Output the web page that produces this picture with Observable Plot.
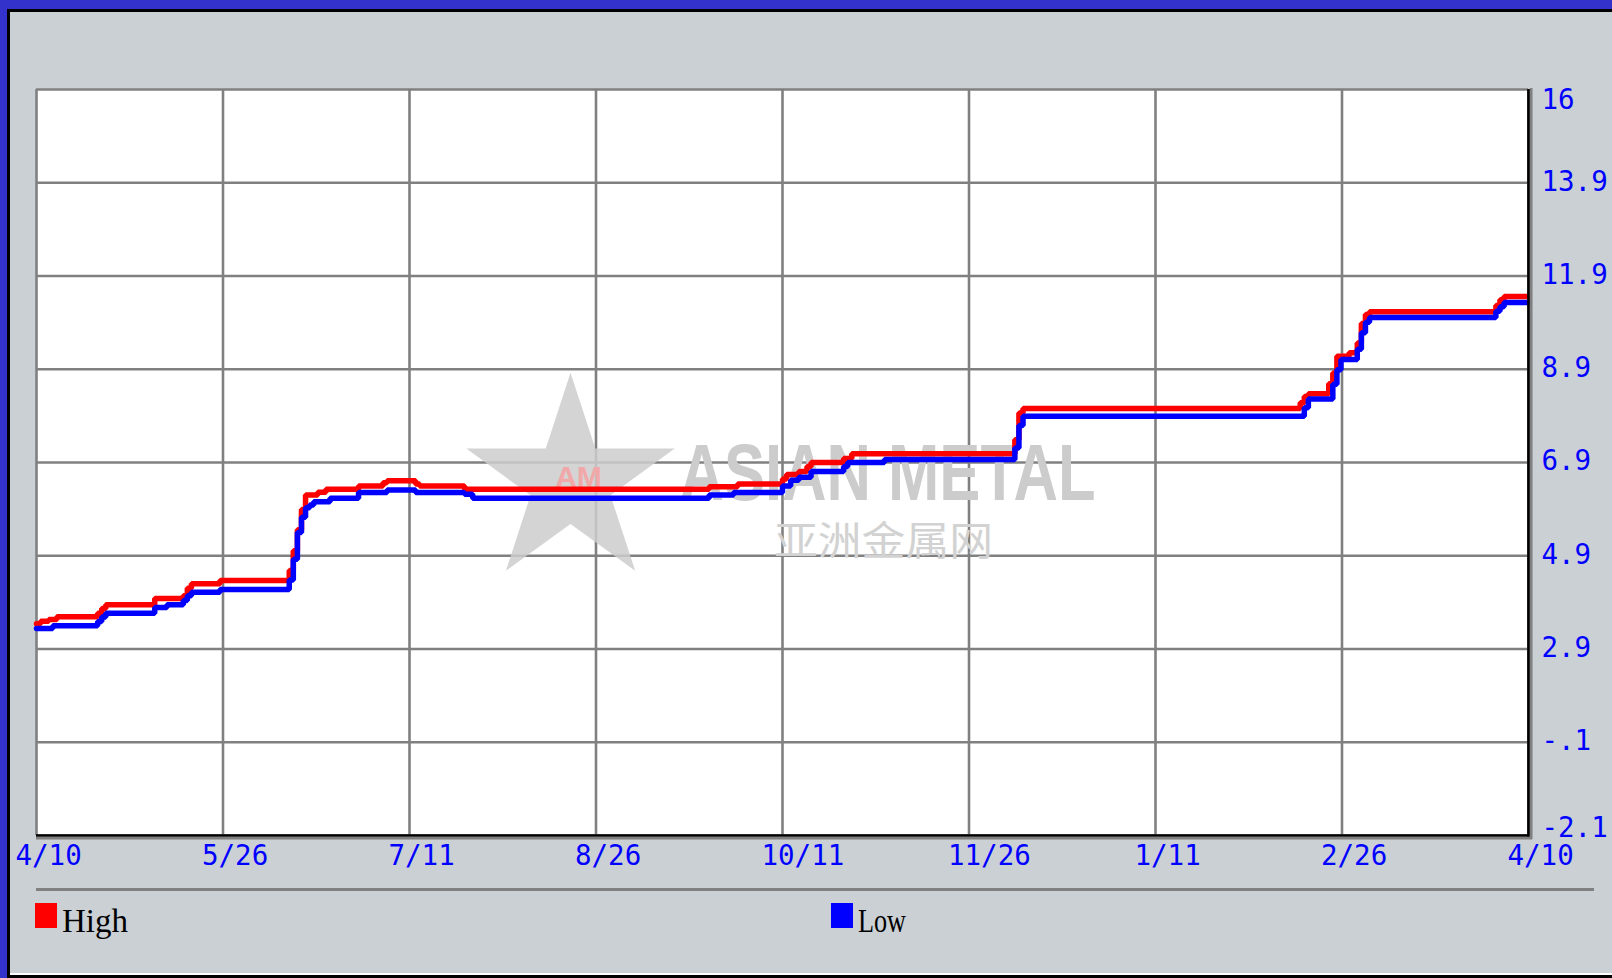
<!DOCTYPE html>
<html>
<head>
<meta charset="utf-8">
<script src="https://cdn.jsdelivr.net/npm/d3@7"></script>
<script src="https://cdn.jsdelivr.net/npm/@observablehq/plot@0.6"></script>
<style>
  html, body { margin: 0; padding: 0; overflow: hidden; background: #3333CC; }
  #wrap { position: relative; width: 1612px; height: 978px; background: #3333CC; overflow: hidden; }
  #outer { position: absolute; left: 7px; top: 9px; right: 0; bottom: 0; background: #000; }
  #panel { position: absolute; left: 10px; top: 12px; width: 1602px; height: 961px; background: #CBD0D4; border-bottom: 2px solid #fff; }
  #chart { position: absolute; left: 0; top: 0; }
  #sep { position: absolute; left: 36px; top: 888px; width: 1558px; height: 3px; background: #808080; }
  .sw { position: absolute; top: 903px; width: 22px; height: 25px; }
  .lt { position: absolute; top: 902px; font-family: "Liberation Serif", serif; font-size: 34px; color: #000; transform-origin: left top; white-space: nowrap; }
</style>
</head>
<body>
<div id="wrap">
  <div id="outer"></div>
  <div id="panel"></div>
  <div id="sep"></div>
</div>
<script>
// ---- data ----
const seriesNames = ["High", "Low"];
const seriesColors = ["#FF0000", "#0000FF"];

const highDates = ["2023-04-10","2023-04-11","2023-04-13","2023-04-15","2023-04-25","2023-04-26","2023-04-27",
  "2023-05-09","2023-05-16","2023-05-17","2023-05-18","2023-05-25","2023-06-11","2023-06-12","2023-06-13",
  "2023-06-14","2023-06-15","2023-06-18","2023-06-20","2023-06-28","2023-07-04","2023-07-05","2023-07-12",
  "2023-07-13","2023-07-24","2023-09-22","2023-09-29","2023-10-10","2023-10-11","2023-10-14","2023-10-16",
  "2023-10-17","2023-10-25","2023-10-27","2023-12-06","2023-12-07","2023-12-08","2024-02-14","2024-02-15",
  "2024-02-16","2024-02-21","2024-02-22","2024-02-23","2024-02-26","2024-02-28","2024-02-29","2024-03-01",
  "2024-03-02","2024-04-02","2024-04-03","2024-04-04","2024-04-10"];
const highValues = [3.04,3.10,3.14,3.21,3.29,3.41,3.50,
  3.65,3.72,3.90,4.01,4.09,4.33,4.81,5.32,
  5.81,6.16,6.23,6.30,6.38,6.46,6.51,6.43,
  6.38,6.30,6.36,6.43,6.55,6.66,6.73,6.85,
  6.95,7.05,7.16,7.50,8.15,8.26,8.40,8.55,
  8.62,8.86,9.12,9.53,9.61,9.85,10.32,10.54,
  10.61,10.76,10.90,10.98,10.98];

const lowDates = ["2023-04-10","2023-04-14","2023-04-25","2023-04-26","2023-04-27","2023-05-09","2023-05-12",
  "2023-05-16","2023-05-17","2023-05-18","2023-05-25","2023-06-11","2023-06-12","2023-06-13","2023-06-14",
  "2023-06-15","2023-06-16","2023-06-17","2023-06-21","2023-06-28","2023-07-05","2023-07-12","2023-07-24",
  "2023-07-26","2023-09-22","2023-09-28","2023-10-10","2023-10-12","2023-10-14","2023-10-17","2023-10-25",
  "2023-10-26","2023-11-04","2023-12-06","2023-12-07","2023-12-08","2024-02-15","2024-02-16","2024-02-22",
  "2024-02-23","2024-02-24","2024-02-28","2024-02-29","2024-03-01","2024-03-02","2024-04-02","2024-04-03",
  "2024-04-04","2024-04-10"];
const lowValues = [2.92,2.99,3.09,3.20,3.29,3.43,3.50,
  3.60,3.72,3.80,3.87,4.10,4.60,5.25,5.62,
  5.85,5.92,6.00,6.08,6.22,6.28,6.22,6.18,
  6.08,6.16,6.22,6.38,6.52,6.59,6.73,6.85,
  6.95,7.02,7.30,7.85,8.07,8.28,8.49,8.85,
  9.20,9.45,9.70,10.10,10.35,10.47,10.62,10.73,
  10.83,10.83];

const xLabels = ["4/10","5/26","7/11","8/26","10/11","11/26","1/11","2/26","4/10"];
const yLabels = ["-2.1","-.1","2.9","4.9","6.9","8.9","11.9","13.9","16"];
const xStart = "2023-04-10", xEnd = "2024-04-10";
const yMin = -2.1, yMax = 16;

// ---- build ----
const start = new Date(xStart), end = new Date(xEnd);
const highRows = highDates.map((d, i) => ({date: new Date(d), value: highValues[i]}));
const lowRows = lowDates.map((d, i) => ({date: new Date(d), value: lowValues[i]}));

const n = xLabels.length - 1;
const xTicks = xLabels.map((_, i) => new Date(+start + i * (end - start) / n));
const yTicks = yLabels.map((_, i) => yMin + i * (yMax - yMin) / (yLabels.length - 1));
const xMap = new Map(xTicks.map((d, i) => [+d, xLabels[i]]));
const yMap = new Map(yTicks.map((d, i) => [d, yLabels[i]]));
const xFmt = d => xMap.get(+d);
const yFmt = d => yMap.get(d);

const axisY = (ticks, dy) => Plot.axisY({ticks, anchor: "right", tickSize: 0, tickPadding: 13,
  tickFormat: yFmt, color: "#0000FF", textAnchor: "start", dy});

const chart = Plot.plot({
  width: 1612, height: 880,
  marginLeft: 36, marginRight: 84, marginTop: 89, marginBottom: 45,
  style: {background: "transparent", fontFamily: "'DejaVu Sans Mono', monospace", fontSize: "27.5px", overflow: "visible"},
  x: {type: "utc", domain: [start, end], label: null},
  y: {domain: [yMin, yMax], label: null},
  marks: [
    Plot.frame({fill: "white", stroke: "none"}),
    Plot.gridX({ticks: xTicks, stroke: "#808080", strokeOpacity: 1, strokeWidth: 2.6}),
    Plot.gridY({ticks: yTicks, stroke: "#808080", strokeOpacity: 1, strokeWidth: 2.6}),
    // watermark
    Plot.text(["★"], {text: d => d, frameAnchor: "middle", dx: -212, dy: 20, fontSize: 272, fontFamily: "DejaVu Sans", fill: "#cdcdcd", fillOpacity: 0.85}),
    Plot.text(["AM"], {text: d => d, frameAnchor: "middle", dx: -204, dy: 15, fontSize: 30, fontWeight: "bold", fontFamily: "Liberation Sans", fill: "#f0a8a8"}),
    Plot.text(["ASIAN METAL"], {text: d => d, frameAnchor: "middle", dx: 105, dy: 12, fontSize: 80, fontWeight: "bold", fontFamily: "Liberation Sans", fill: "#cccccc"}),
    Plot.text(["亚洲金属网"], {text: d => d, frameAnchor: "middle", dx: 101, dy: 80, fontSize: 40, fontFamily: "Noto Sans CJK SC", fill: "#d2d2d2"}),
    // series
    Plot.line(highRows, {x: "date", y: "value", stroke: seriesColors[0], strokeWidth: 5.5, curve: "step-after", strokeLinejoin: "miter"}),
    Plot.line(lowRows, {x: "date", y: "value", stroke: seriesColors[1], strokeWidth: 5.5, curve: "step-after", strokeLinejoin: "miter"}),
    // bevel edges
    Plot.ruleX([end], {stroke: "#000", strokeWidth: 2.7, insetBottom: -2}),
    Plot.ruleX([end], {stroke: "#808080", strokeWidth: 2.7, dx: 2.7, insetTop: -1, insetBottom: -4}),
    Plot.ruleY([yMin], {stroke: "#000", strokeWidth: 2.7}),
    Plot.ruleY([yMin], {stroke: "#808080", strokeWidth: 2.7, dy: 2.7, insetRight: -4}),
    // axes
    Plot.axisX({ticks: xTicks, tickSize: 0, tickPadding: 10, tickFormat: xFmt, color: "#0000FF", textAnchor: "start", dx: -21}),
    axisY(yTicks.slice(1, -1), -1),
    axisY([yTicks[yTicks.length - 1]], 10.5),
    axisY([yTicks[0]], -7)
  ]
});
chart.id = "chart";
d3.select(chart).selectAll("text").filter(function() { return this.textContent === "ASIAN METAL"; })
  .attr("textLength", 416).attr("lengthAdjust", "spacingAndGlyphs");
d3.select(chart).selectAll("text").filter(function() { return this.textContent === "亚洲金属网"; })
  .attr("textLength", 219).attr("lengthAdjust", "spacingAndGlyphs");

const wrap = document.getElementById("wrap");
wrap.appendChild(chart);

// legend
const legendX = [35, 831];
const legendW = [66, 48];
seriesNames.forEach((name, i) => {
  const sw = document.createElement("div");
  sw.className = "sw";
  sw.style.left = legendX[i] + "px";
  sw.style.background = seriesColors[i];
  wrap.appendChild(sw);
  const t = document.createElement("div");
  t.className = "lt";
  t.textContent = name;
  t.style.left = (legendX[i] + 27) + "px";
  wrap.appendChild(t);
  const w = t.getBoundingClientRect().width;
  t.style.transform = `scaleX(${legendW[i] / w})`;
});
</script>
</body>
</html>
